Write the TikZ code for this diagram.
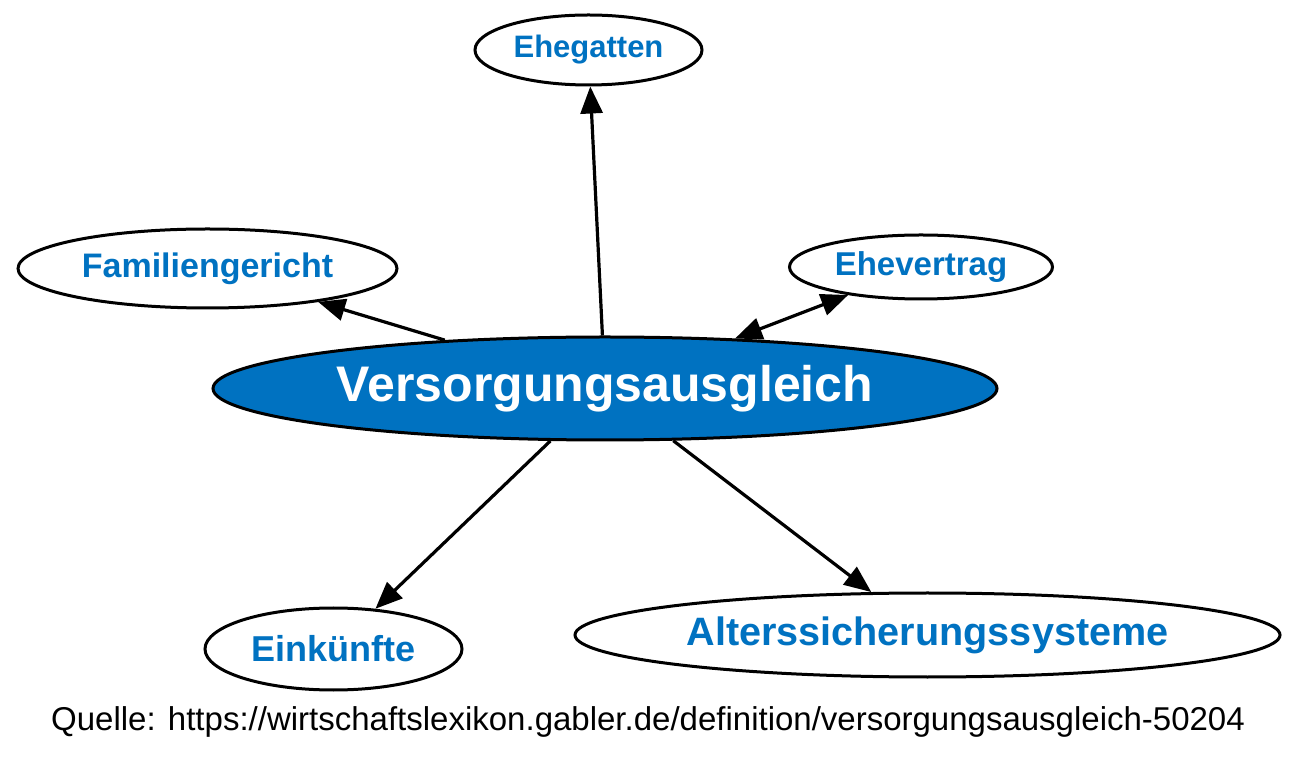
\documentclass[tikz,border=0pt]{standalone}
\usepackage{fontspec}
\setmainfont{Liberation Sans}
\usepackage{xcolor}
\usepackage{tikz}
\usetikzlibrary{shapes.geometric, arrows.meta}

\definecolor{gablerblue}{HTML}{0072C1}

\begin{document}
\begin{tikzpicture}[x=0.5pt, y=-0.5pt,
    topic/.style={ellipse, draw, line width=1.5pt, fill=white, inner sep=0pt,
        text=gablerblue, font=\bfseries},
    hub/.style={topic, fill=gablerblue, text=white},
    link/.style={line width=1.6pt, -{Triangle[length=13.5pt, width=11pt]}}]
    \useasboundingbox (0,0) rectangle (1300,779);

    % Central term
    \node[hub, minimum width=392pt, minimum height=51.5pt, font=\bfseries\fontsize{25}{30}\selectfont]
        (va) at (605,388.5) {Versorgungsausgleich};

    % Related terms
    \node[topic, minimum width=113.5pt, minimum height=35pt, font=\bfseries\fontsize{15.5}{18}\selectfont]
        (ehegatten) at (588.5,50) {Ehegatten};
    \node[topic, minimum width=189.5pt, minimum height=39.5pt, font=\bfseries\fontsize{17}{20}\selectfont]
        (familie) at (207.5,268.5) {Familiengericht};
    \node[topic, minimum width=131.5pt, minimum height=32pt, font=\bfseries\fontsize{16.5}{20}\selectfont]
        (vertrag) at (921,267) {Ehevertrag};
    \node[topic, minimum width=128.5pt, minimum height=41pt, font=\bfseries\fontsize{18}{22}\selectfont]
        (einkuenfte) at (333.5,649) {Einkünfte};
    \node[topic, minimum width=352.5pt, minimum height=42pt, font=\bfseries\fontsize{19.8}{24}\selectfont]
        (alter) at (927.5,635) {Alterssicherungssysteme};

    % Source
    \node[font=\fontsize{16.5}{20}\selectfont] (quelle) at (648,722)
        {Quelle: https://wirtschaftslexikon.gabler.de/definition/versorgungsausgleich-50204};

    % Arrows
    \draw[link] (va) -- (ehegatten);
    \draw[link] (va) -- (familie);
    \draw[link, {Triangle[length=13.5pt, width=11pt]}-{Triangle[length=13.5pt, width=11pt]}] (va) -- (vertrag);
    \draw[link] (va) -- (einkuenfte);
    \draw[link] (va) -- (alter);
\end{tikzpicture}
\end{document}
